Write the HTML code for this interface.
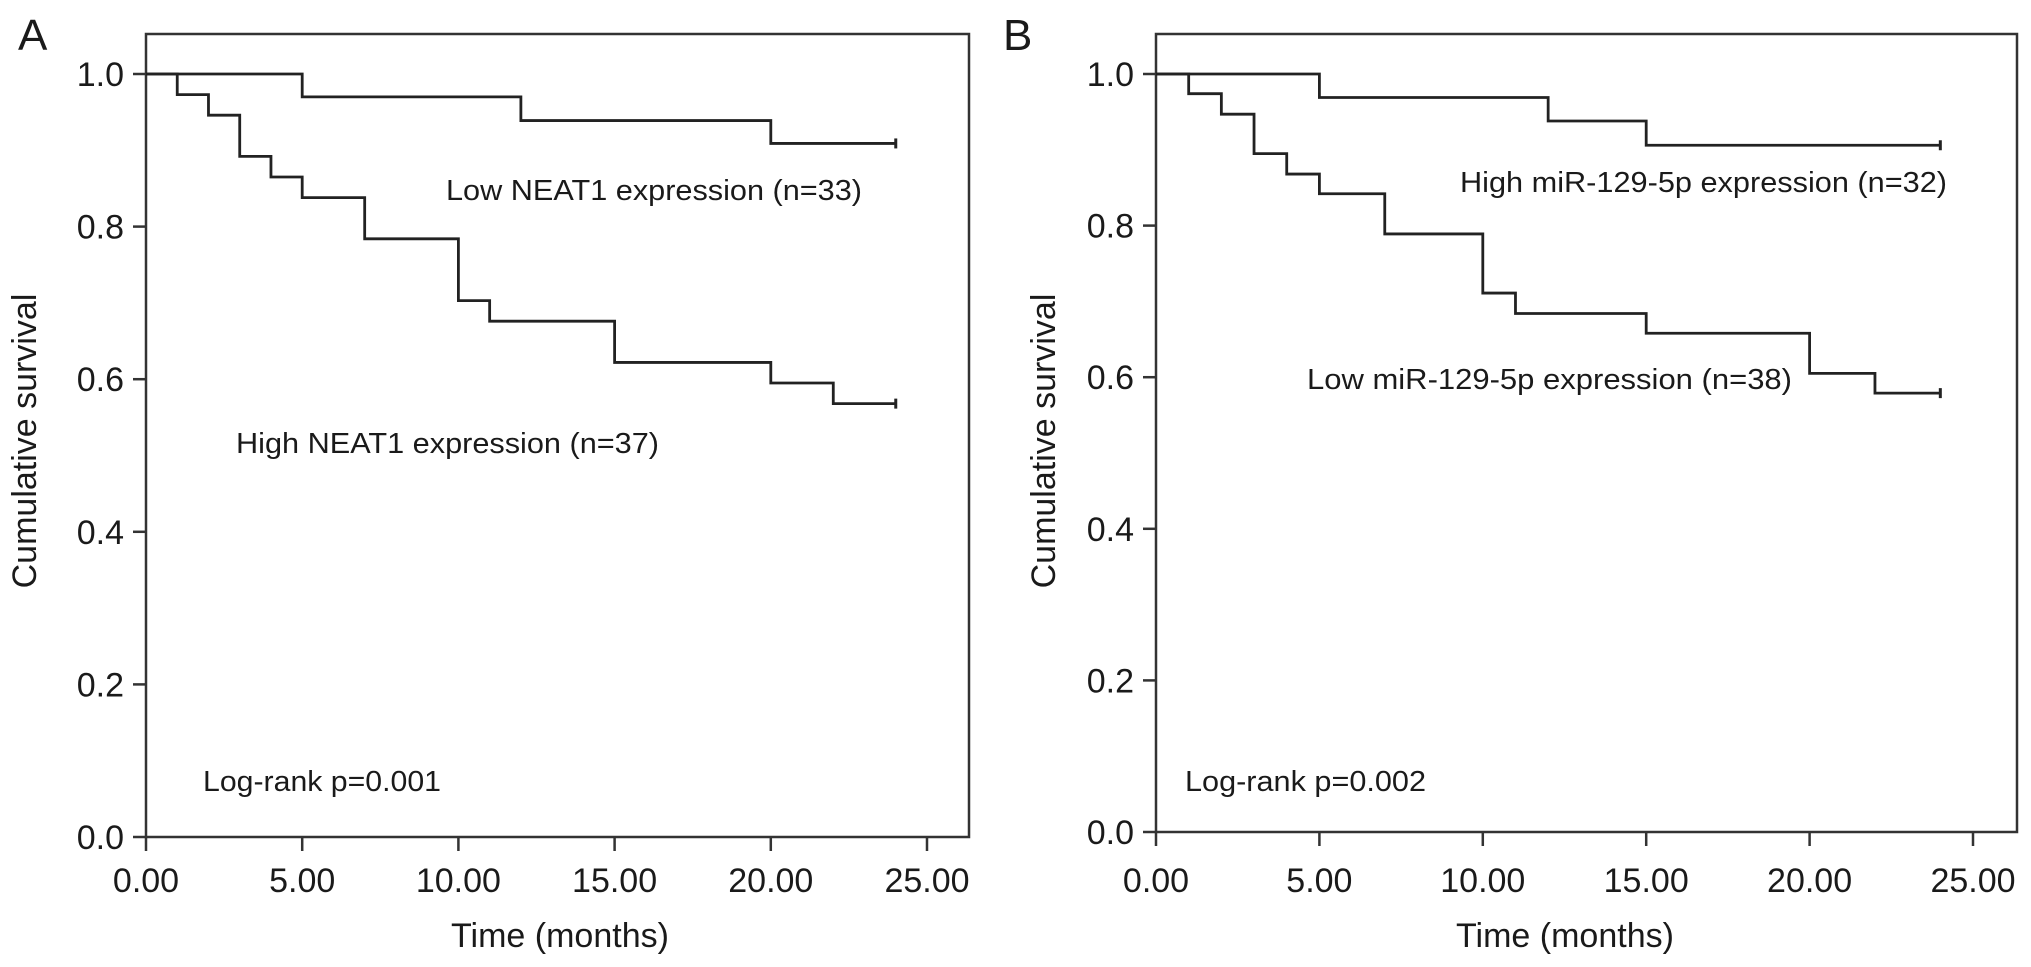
<!DOCTYPE html>
<html><head><meta charset="utf-8"><style>
html,body{margin:0;padding:0;background:#fff;}
svg{display:block;}
text{font-family:"Liberation Sans",Arial,sans-serif;fill:#1a1a1a;}
</style></head><body>
<svg id="chart" width="2031" height="967" viewBox="0 0 2031 967"></svg>
<script>
const yTicks=[0,0.2,0.4,0.6,0.8,1.0];
const yTickLabels=["0.0","0.2","0.4","0.6","0.8","1.0"];
const xTicks=[0,5,10,15,20,25];
const xTickLabels=["0.00","5.00","10.00","15.00","20.00","25.00"];
const aLowTimes=[0,5,12,20,24];
const aLowSurv=[1.0,0.970,0.939,0.909,0.909];
const aHighTimes=[0,1,2,3,4,5,7,10,11,15,20,22,24];
const aHighSurv=[1.0,0.973,0.946,0.892,0.865,0.838,0.784,0.703,0.676,0.622,0.595,0.568,0.568];
const bHighTimes=[0,5,12,15,24];
const bHighSurv=[1.0,0.969,0.938,0.906,0.906];
const bLowTimes=[0,1,2,3,4,5,7,10,11,15,20,22,24];
const bLowSurv=[1.0,0.974,0.947,0.895,0.868,0.842,0.789,0.711,0.684,0.658,0.605,0.579,0.579];

const NS="http://www.w3.org/2000/svg";
const svg=document.getElementById('chart');
function mk(tag,attrs,parent){const e=document.createElementNS(NS,tag);for(const k in attrs)e.setAttribute(k,attrs[k]);(parent||svg).appendChild(e);return e;}

function panel(cfg){
  const g=mk('g',{});
  
  
  const xs=t=>cfg.x0+(t/25)*(cfg.x25-cfg.x0);
  const ys=v=>cfg.y0-v*(cfg.y0-cfg.y1);
  const frame=mk('rect',{x:cfg.x0,y:cfg.top,width:cfg.right-cfg.x0,height:cfg.y0-cfg.top,fill:'none',stroke:'#333',"stroke-width":2.5},g);
  
  
  yTicks.forEach((v,i)=>{
    const y=ys(v);
    const tk=mk('line',{x1:cfg.x0-13,x2:cfg.x0,y1:y,y2:y,stroke:'#333',"stroke-width":2.5},g);
    
    
    const t=mk('text',{x:cfg.x0-22,y:y+12,"text-anchor":"end","font-size":34},g);
    t.textContent=yTickLabels[i];
    
    
  });
  xTicks.forEach((v,i)=>{
    const x=xs(v);
    const tk=mk('line',{x1:x,x2:x,y1:cfg.y0,y2:cfg.y0+14,stroke:'#333',"stroke-width":2.5},g);
    
    
    const t=mk('text',{x:x,y:892,"text-anchor":"middle","font-size":34},g);
    t.textContent=xTickLabels[i];
    
    
  });
  cfg.series.forEach(s=>{
    let d='M'+xs(s.t[0])+','+ys(s.v[0]);
    for(let i=1;i<s.t.length;i++){d+=' H'+xs(s.t[i])+' V'+ys(s.v[i]);}
    const p=mk('path',{d:d,fill:'none',stroke:'#222',"stroke-width":2.8},g);
    
    
    const ex=xs(s.t[s.t.length-1]),ey=ys(s.v[s.v.length-1]);
    const c=mk('line',{x1:ex,x2:ex,y1:ey-5,y2:ey+5,stroke:'#222',"stroke-width":3},g);
    
    
  });
  cfg.texts.forEach(o=>{
    const a={x:o.x,y:o.y,"font-size":o.fs};
    if(o.anchor)a["text-anchor"]=o.anchor;
    if(o.len){a.textLength=o.len;a.lengthAdjust='spacingAndGlyphs';}
    if(o.rot)a.transform='rotate(-90 '+o.x+' '+o.y+')';
    const t=mk('text',a,g);
    t.textContent=o.s;
    
    
  });
}

panel({name:'panel-a',x0:146,x25:927,right:969,top:34,y0:837,y1:74,
  series:[{name:'low-neat1-curve',t:aLowTimes,v:aLowSurv},{name:'high-neat1-curve',t:aHighTimes,v:aHighSurv}],
  texts:[
    {s:'A',x:18,y:50,fs:44,name:'panel-a-label'},
    {s:'Low NEAT1 expression (n=33)',x:446,y:200,fs:29,len:416,name:'low-neat1-label'},
    {s:'High NEAT1 expression (n=37)',x:236,y:453,fs:29,len:423,name:'high-neat1-label'},
    {s:'Log-rank p=0.001',x:203,y:791,fs:29,len:238,name:'log-rank-a'},
    {s:'Cumulative survival',x:36,y:441,fs:34,anchor:'middle',rot:true,name:'y-axis-title-a'},
    {s:'Time (months)',x:560,y:947,fs:34,anchor:'middle',name:'x-axis-title-a'}
  ]});
panel({name:'panel-b',x0:1156,x25:1973,right:2017,top:34,y0:832,y1:74,
  series:[{name:'high-mir129-curve',t:bHighTimes,v:bHighSurv},{name:'low-mir129-curve',t:bLowTimes,v:bLowSurv}],
  texts:[
    {s:'B',x:1003,y:50,fs:44,name:'panel-b-label'},
    {s:'High miR-129-5p expression (n=32)',x:1460,y:192,fs:29,len:487,name:'high-mir129-label'},
    {s:'Low miR-129-5p expression (n=38)',x:1307,y:389,fs:29,len:485,name:'low-mir129-label'},
    {s:'Log-rank p=0.002',x:1185,y:791,fs:29,len:241,name:'log-rank-b'},
    {s:'Cumulative survival',x:1055,y:441,fs:34,anchor:'middle',rot:true,name:'y-axis-title-b'},
    {s:'Time (months)',x:1565,y:947,fs:34,anchor:'middle',name:'x-axis-title-b'}
  ]});
</script>
</body></html>
